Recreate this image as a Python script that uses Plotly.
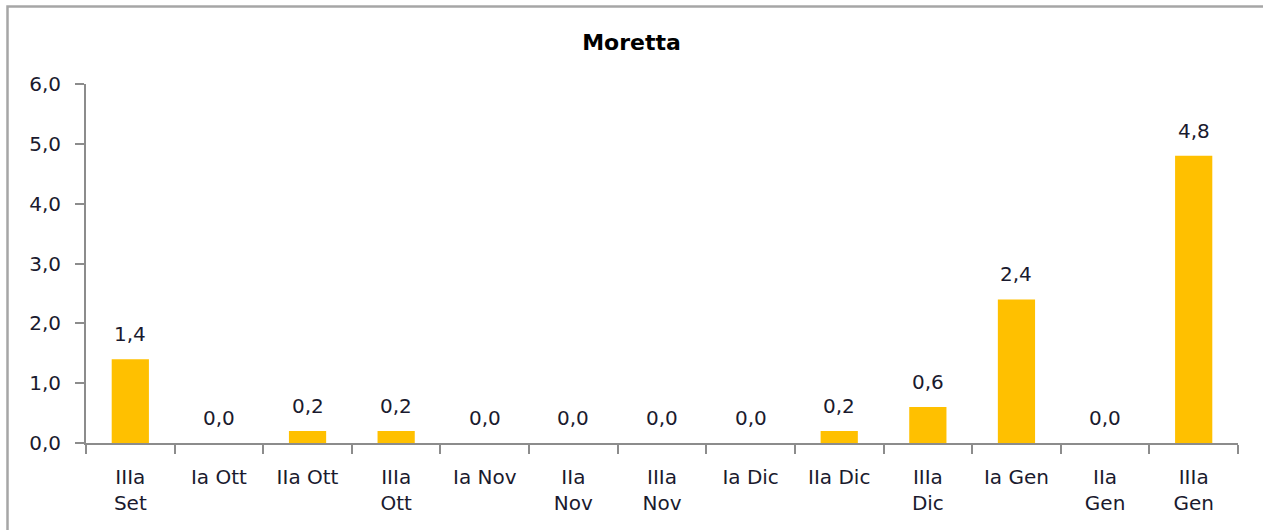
import plotly.graph_objects as go

categories = ["IIIa<br>Set", "Ia Ott", "IIa Ott", "IIIa<br>Ott", "Ia Nov", "IIa<br>Nov",
              "IIIa<br>Nov", "Ia Dic", "IIa Dic", "IIIa<br>Dic", "Ia Gen", "IIa<br>Gen", "IIIa<br>Gen"]
values = [1.4, 0.0, 0.2, 0.2, 0.0, 0.0, 0.0, 0.0, 0.2, 0.6, 2.4, 0.0, 4.8]
y_ticks = [0, 1, 2, 3, 4, 5, 6]
title = "Moretta"

W, H = 1263, 530
L, R, T, B = 86, 25, 84, 87
pw, ph = W - L - R, H - T - B

def px_x(p):
    return (p - L) / pw

def px_y(p):
    return (H - B - p) / ph

font = "DejaVu Sans, Verdana, sans-serif"
txt_color = "#1a1a2e"
fs = 20

fig = go.Figure(go.Bar(
    x=categories, y=values,
    marker=dict(color="#FFC000", line=dict(width=0)),
    width=0.42,
))

annotations = [
    dict(x=c, y=v, xref="x", yref="y", text=f"{v:.1f}".replace(".", ","),
         showarrow=False, yanchor="bottom", yshift=11,
         font=dict(family=font, size=fs, color=txt_color))
    for c, v in zip(categories, values)
]

fig.update_layout(
    width=W, height=H,
    margin=dict(l=L, r=R, t=T, b=B),
    paper_bgcolor="white", plot_bgcolor="white",
    separators=",.",
    showlegend=False,
    title=dict(text="<b>" + title + "</b>", x=0.5, xanchor="center", y=1 - 42 / H, yanchor="middle",
               font=dict(family=font, size=22, color="black")),
    font=dict(family=font, size=fs, color=txt_color),
    annotations=annotations,
    xaxis=dict(showline=True, linecolor="#8c8c8c", linewidth=2, ticks="outside", ticklen=9,
               tickcolor="#8c8c8c", tickwidth=2, tickson="boundaries", showgrid=False,
               tickangle=0, ticklabelstandoff=15, tickfont=dict(family=font, size=fs)),
    yaxis=dict(range=[0, 6], tickvals=y_ticks, tickformat=".1f", showline=True, linecolor="#8c8c8c",
               linewidth=2, ticks="outside", ticklen=9, tickcolor="#8c8c8c", tickwidth=2,
               showgrid=False, zeroline=False, ticklabelstandoff=10, tickfont=dict(family=font, size=fs)),
    shapes=[dict(type="rect", xref="paper", yref="paper",
                 x0=px_x(7.5), x1=px_x(1275), y0=px_y(545), y1=px_y(6.5),
                 line=dict(color="#a6a6a6", width=2.5))],
)

fig.write_html("out.html", config={"displayModeBar": False},
               post_script="document.body.style.margin='0';")
